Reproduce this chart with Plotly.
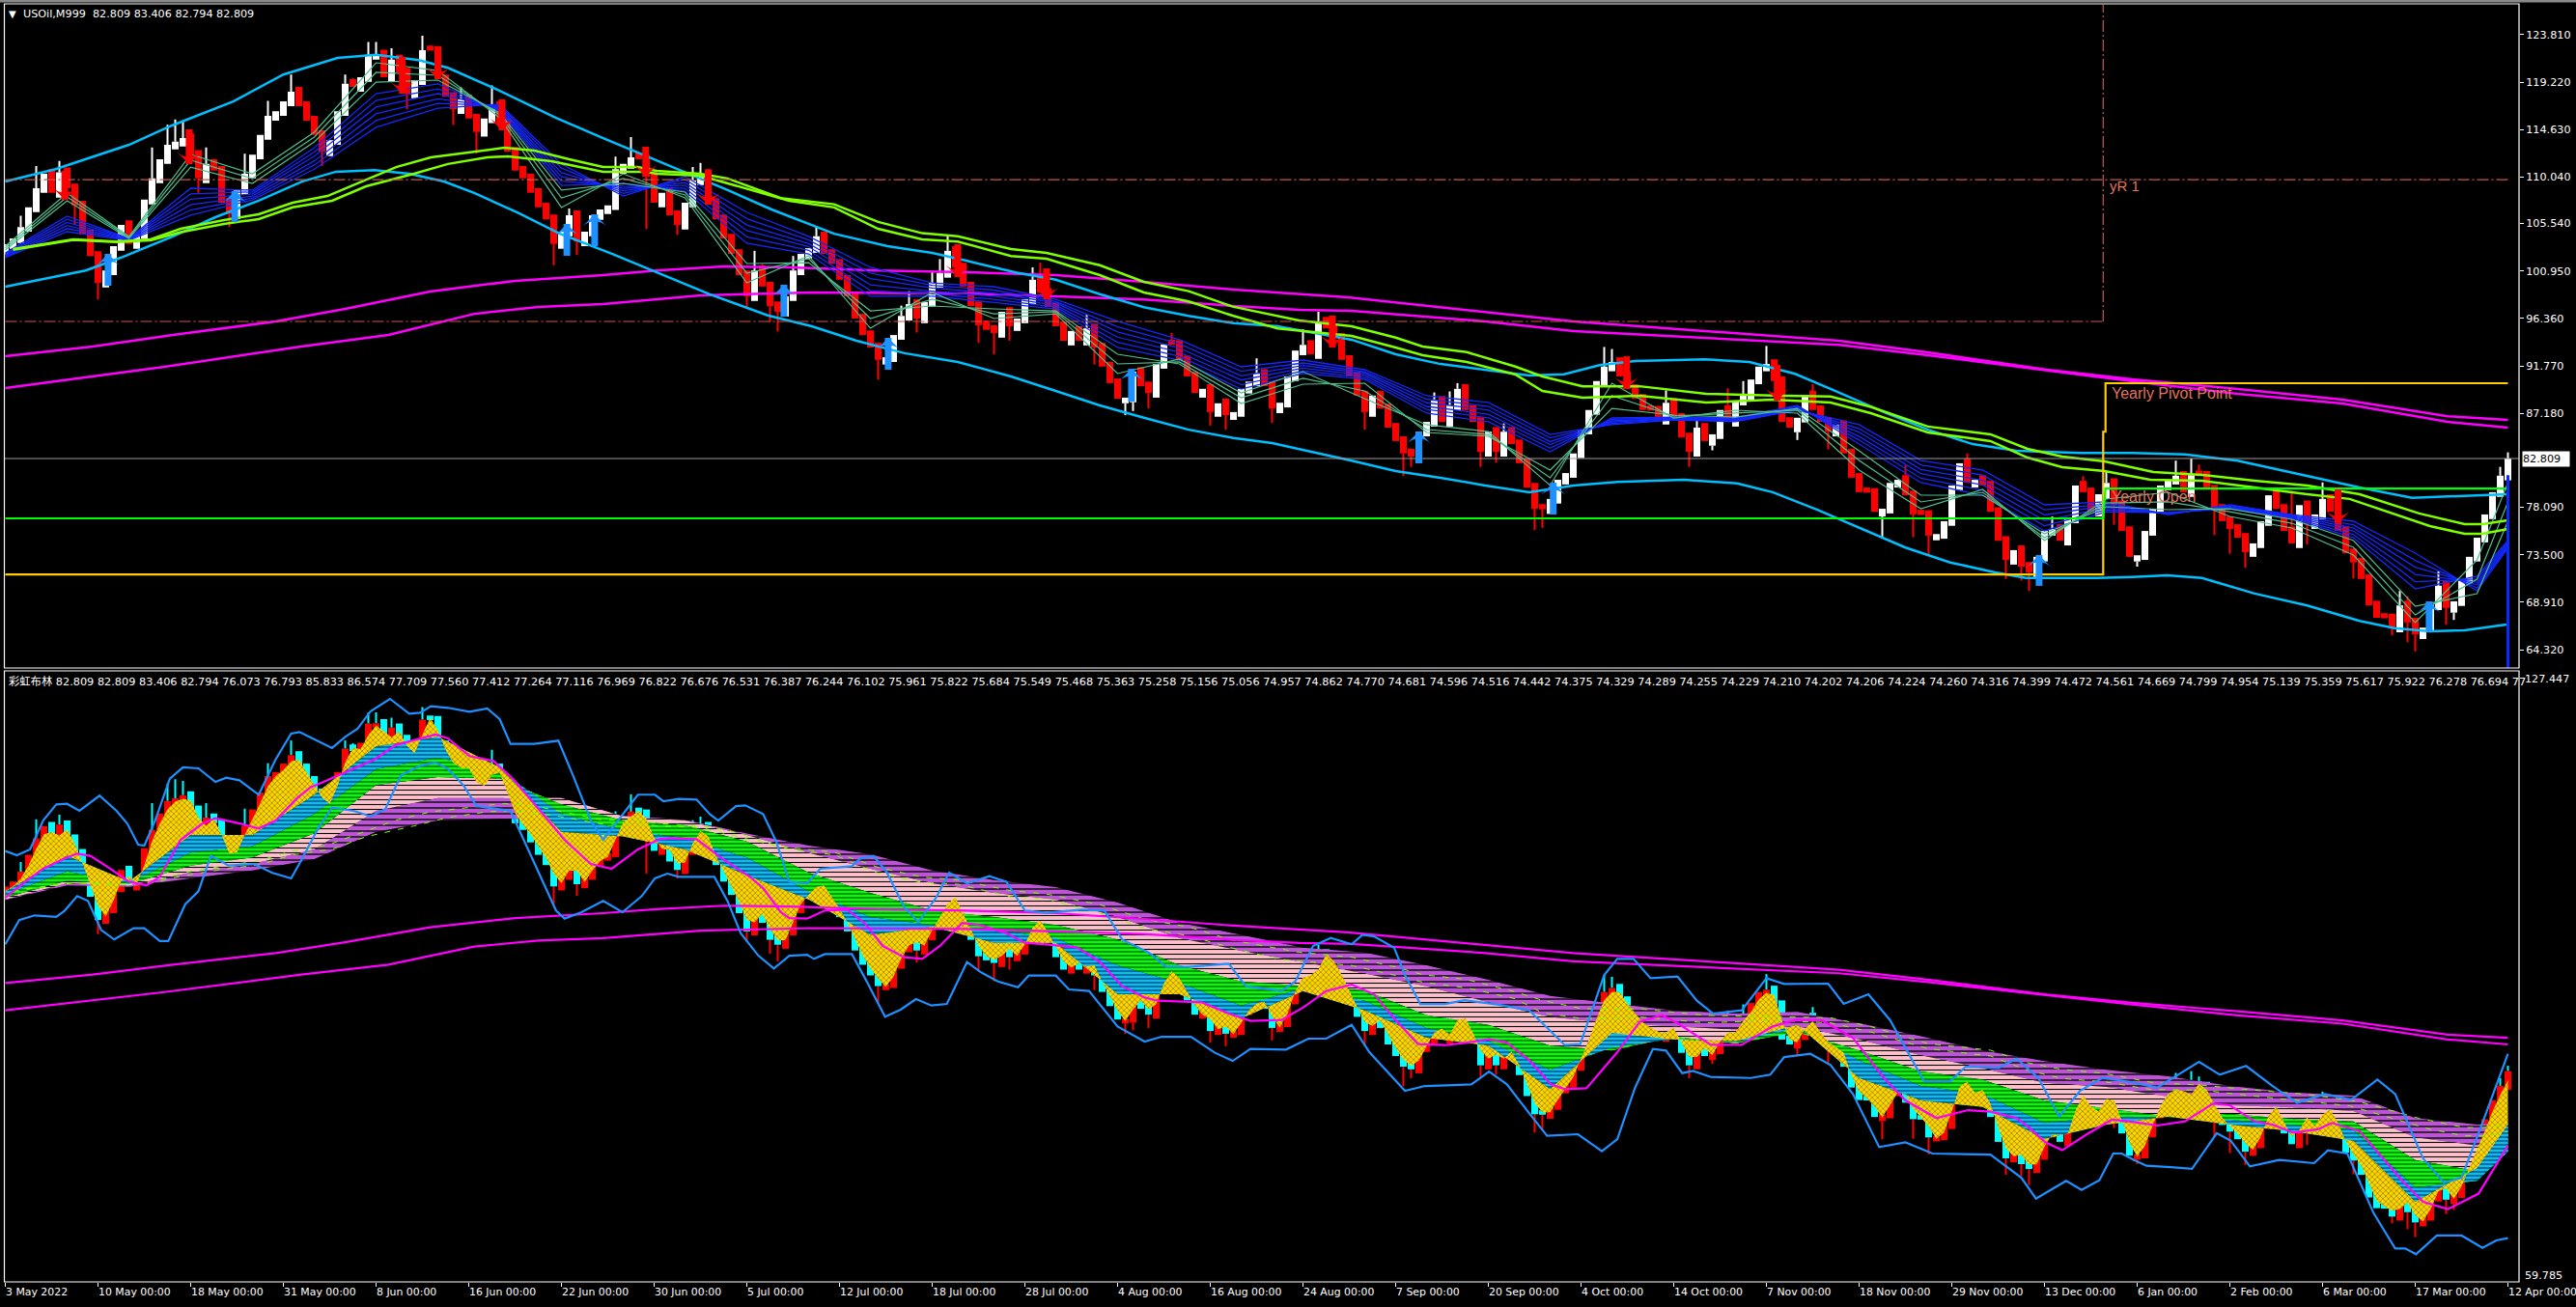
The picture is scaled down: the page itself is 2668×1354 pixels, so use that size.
import plotly.graph_objects as go

W, H = 2668, 1354
# ---------------- candles (bar index -> close) ----------------
CLOSE = [103.54,104.1,105.2,107.1,108.95,110.35,108.5,110.5,108.95,107.3,
104.5,102.4,99.8,101.0,103.35,105.4,103.55,104.5,107.85,109.9,
111.75,113.15,113.45,113.8,112.2,109.9,111.3,110.65,107.55,106.45,
108.75,110.35,112.2,114.1,115.95,116.4,117.35,118.3,116.9,115.5,
114.1,112.5,113.6,116.4,119.05,118.75,119.7,121.85,121.9,119.7,
121.4,120.15,118.1,119.4,122.3,122.25,119.5,117.8,116.6,117.55,
115.7,114.4,115.7,116.9,115.3,112.5,110.65,109.9,108.5,107.1,
105.95,103.55,104.75,106.35,103.8,104.75,106.35,106.9,107.3,110.8,
111.3,111.95,111.75,110.05,107.55,108.5,106.35,105.4,107.55,109.7,
110.35,107.55,105.95,104.1,102.6,100.55,98.5,101.0,99.45,97.55,
97.0,98.5,101.0,102.6,103.15,104.3,102.6,101.65,100.1,98.5,
96.35,94.75,93.55,92.35,92.6,94.75,96.6,97.75,96.35,97.95,
99.8,100.75,102.9,101.3,99.45,97.55,95.7,95.25,94.95,97.0,
95.6,96.35,98.2,100.1,98.85,97.45,95.6,94.2,95.15,94.2,
95.4,93.55,91.7,90.1,88.6,88.7,91.2,89.8,89.15,91.95,
93.85,93.8,92.3,90.75,89.15,89.55,87.3,88.15,87.0,87.3,
89.55,90.25,91.0,89.8,87.65,88.2,90.75,93.25,93.8,92.9,
96.05,95.4,94.5,92.35,90.75,88.9,87.3,88.9,87.65,85.8,
84.5,83.3,83.0,85.4,86.35,88.4,86.35,87.95,89.55,87.5,
86.35,83.45,85.4,83.45,85.4,84.2,82.35,80.0,77.95,77.9,
78.9,80.75,81.4,83.3,85.6,87.5,90.3,91.7,92.15,90.75,
89.55,88.6,87.5,87.45,86.55,88.2,86.75,84.85,83.45,85.8,
84.5,85.15,87.5,86.35,88.4,88.9,90.45,91.7,91.95,90.3,
86.35,85.8,86.75,88.9,87.5,86.35,85.4,86.05,83.3,80.95,
79.55,79.5,77.65,77.95,80.45,80.75,79.25,77.4,77.35,75.35,
75.5,76.75,80.2,82.35,80.45,80.75,80.2,77.65,74.85,73.0,
73.95,72.35,71.8,73.3,75.8,76.0,74.85,77.0,80.2,79.55,
77.65,79.35,80.45,78.3,75.8,73.3,73.45,75.8,77.95,80.2,
80.75,81.15,79.55,81.2,81.15,79.8,77.95,76.75,76.0,75.15,
73.75,74.6,76.75,79.25,77.95,75.8,74.6,78.3,76.45,77.4,
78.9,77.65,75.8,73.65,72.75,71.15,68.6,67.4,67.35,66.45,
68.6,66.95,65.8,66.45,68.6,70.5,68.35,69.0,71.15,73.3,
75.15,77.4,79.55,81.15,82.809]
FIRST_OPEN = 103.0
BODY_OVERLAP = 0.45
HIGH_WICK = {2:106.3,4:111.1,7:111.6,19:112.9,21:115.1,22:115.6,23:115.4,26:112.9,31:112.3,34:117.4,37:119.95,
44:119.95,45:119.6,47:123.1,48:123.1,50:122.5,54:123.7,59:118.7,63:118.9,73:107,79:112.0,81:113.9,
89:111.0,90:111.4,98:101.6,97:102.9,105:105.2,102:102.4,122:104.45,121:102.1,120:101.0,116:97.6,117:99.0,
134:101.75,133:101.3,140:96.7,151:94.95,162:92.5,168:95.3,170:97.0,185:89.2,188:90.1,187:89.3,
194:86.2,207:93.6,208:93.4,215:89.4,219:86.6,223:89.6,225:90.3,228:93.7,234:90.0,246:82.15,254:83.3,
262:72.8,265:77.2,269:81.1,272:81.5,281:82.6,283:82.8,284:82.2,296:79.7,300:80.5,304:74.0,310:70.0,311:69.5,315:71.9,323:82.0,324:83.406}
LOW_WICK = {9:105.4,12:98.2,25:108.5,29:105.2,41:111.1,52:116.6,58:115.1,61:112.3,71:101.5,74:102.5,83:105.0,87:104.45,
96:97.3,100:95.1,99:96.0,113:90.45,118:95.0,126:94.0,128:92.9,130:94.2,145:87.0,146:87.4,148:87.65,
141:91.9,158:85.6,156:86.0,164:86.25,176:85.6,181:81.1,182:82.0,191:82.0,193:82.4,199:76.1,198:75.9,
218:82.0,221:83.6,232:84.6,236:83.7,243:75.15,249:73.45,247:75.2,259:71.15,262:70.0,261:71.0,276:72.35,
273:76.4,290:72.25,288:73.6,286:75.4,298:74.5,304:71.2,309:65.7,311:65.05,312:64.15,316:66.75,317:67.2}

# ---------------- smooth channel lines (bar index, price) ----------------
CYAN_UP_X = [0,6.5,16,21.5,29.5,36,43,48,53.5,57.3,63.5,71.3,77.4,84.6,93,99.2,107.3,114.2,120,124.4,130.8,136,141.7,147.4,153.2,159,164.7,174.3,180,185.8,191.6,197.3,201.8,206.4,211,220,225.8,231.7,236.3,243.2,248.9,254.7,260.4,268.6,275.4,282.2,289,298,304.8,311.6,318.4,323.8]
CYAN_UP_Y = [109.6,110.8,113.15,115,117.35,119.95,121.55,121.85,121.35,120.6,118.55,115.75,113.8,111.55,108.95,106.9,104.55,103.35,102.7,101.95,100.8,100.1,98.7,97.45,96.6,95.9,95.6,94.3,92.9,91.95,91.4,90.85,90.95,91.85,92.25,92.4,92.15,91.0,89.55,87.3,85.6,84.2,83.55,83.35,83.35,83.2,82.6,81.15,80.0,79.0,79.2,79.35]
CYAN_LO_X = [0,5,10.4,15,21.7,27.2,32.8,38.4,42.8,47.8,52.3,56.8,60.7,66.3,71.8,78.6,84.3,91.2,98.7,104.4,110.2,116.4,123.3,130.2,136,141.7,147.4,153.2,159,164,174.3,180,185.8,191.6,197.3,203,208.7,217.3,224.2,228.8,234.6,240.3,246,251.8,257.6,261.6,270.8,275.4,279.9,284.4,291.2,298,304.8,309.3,313.9,318.4,323.8]
CYAN_LO_Y = [99.43,100.2,101.0,102.25,104.3,106.15,107.75,109.6,110.55,110.7,110.35,109.6,108.5,106.6,104.55,102.6,100.85,98.7,96.65,95.6,94.2,93.0,92.15,90.75,89.35,87.95,86.75,85.6,84.8,84.3,82.6,81.6,80.95,80.2,79.55,80.2,80.55,80.75,80.4,79.55,77.85,76.0,74.2,72.75,71.8,71.25,71.25,71.35,71.5,71.25,69.75,68.6,67.1,66.4,66.1,66.2,66.75]
GREEN_UP_X = [1,4.9,8.8,14.4,18.8,22.7,28.3,32.8,37.2,41.7,45.6,50.6,55.1,60.7,64.6,68.5,73,77.4,81.9,84.3,90,93.5,100.4,107.3,113,118.7,123.3,130.2,134.8,141.7,147.4,153.2,158.9,167.5,174.3,180,183.5,189.2,195.5,199,204.2,211.6,220.2,228.8,236.3,241.5,248.9,257,261.8,266.3,271.8,278.1,284.4,291.2,298,304.8,312.5,318.4,320.7,324]
GREEN_UP_Y = [103.07,103.54,104,103.8,104,105.03,105.87,106.43,107.55,108.2,109.4,111,111.94,112.5,112.87,112.6,111.75,111,111,110.63,110.35,109.9,108,107.4,105.7,104.6,104.3,103.07,102.7,101.5,99.9,99,97.5,96.16,95.6,94.5,93.64,93.1,91.7,90.75,89.8,89.8,89.06,88.9,88.8,87.8,85.9,85.15,83.74,83,82.53,81.5,81.22,80.66,80.2,79.35,77.5,76.46,76.46,76.83]
GREEN_LO_X = [1,4.9,8.8,14.4,18.8,22.7,28.3,32.8,37.2,42.3,46.7,52.9,57.3,62.4,65.1,70.7,77.4,83,84.3,90,101.5,107.3,113,118.7,123.3,130.2,134.8,141.7,147.4,153.2,158.9,164.7,173.9,174.3,180,183.5,189.2,195.5,199,204.2,211.6,220.2,228.8,236.3,241.5,248.9,257,261.8,266.3,271.8,277.7,284.4,291.2,298,303.5,309.4,313.9,318.4,320.7,324]
GREEN_LO_Y = [103.0,103.5,103.95,103.75,103.9,104.7,105.5,105.97,107.1,107.74,109.14,110.35,111.3,111.94,112.03,111.57,110.54,110.54,110.35,110.17,107.74,107.1,105.03,104,103.8,102.4,102.14,100.55,98.87,98,96.63,95.4,94.76,94.67,93.55,92.8,92.15,90.93,89.35,88.7,88.88,88.23,88.5,88.23,87.2,85.33,84.5,82.9,81.97,81.6,80.75,80.66,80.0,79.35,78.9,77.4,76.27,75.53,75.53,76]
MAG_UP_X = [0,11.3,21.7,35,44,55,66,77.4,84.3,93,101.6,113,124.4,136,147.4,159,173.8,191.6,203,220,237.4,248.9,264.3,275.4,289,302.6,316.2,324]
MAG_UP_Y = [92.7,93.64,94.76,96.07,97.28,98.96,100,100.55,101,101.39,101.3,101,100.83,100.55,99.9,99.15,98.4,97,96.07,95.14,94.2,93.08,91.4,90.47,89.53,88.5,86.9,86.55]
MAG_LO_X = [0,20.6,38.3,49.6,60.7,69,77.4,84.3,90,104.4,124.4,136,147.4,159,167.6,174.3,191.6,203,220,237.4,248.9,264.3,275.4,289,302.6,316.2,324]
MAG_LO_Y = [89.63,91.68,93.64,94.76,96.8,97.47,97.75,98.2,98.59,98.87,98.77,98.5,98.2,97.56,97.19,97.1,96.07,95.13,94.48,93.8,92.8,91.3,90.28,89.07,88.13,86.36,85.8]

# ---------------- moving-average ribbon (sampled every 8 bars) ----------------
GRID = [0,8,16,24,32,40,48,56,64,72,80,88,96,104,112,120,128,136,144,152,160,168,176,184,192,200,208,216,224,232,240,248,256,264,272,280,288,296,304,312,320,324]
SEA1 = [103.35,108.49,104.28,112.22,110.35,114.37,121.09,120.34,115.77,107.09,110.35,108.02,99.8,102.42,95.41,98.87,96.35,96.81,91.03,92.43,89.16,91.21,88.6,86.08,85.42,80.2,90.09,86.73,87.48,87.2,81.69,77.95,79.82,74.87,78.89,79.54,77.21,76.09,73.47,66.94,73.0,80.47]
SEA2 = [103.16,108.11,104.19,111.66,109.89,113.9,120.16,119.88,116.05,108.02,109.89,108.3,100.74,102.14,96.35,98.22,96.81,97.0,91.96,92.15,88.69,90.56,89.35,85.61,85.14,80.94,88.88,86.92,87.2,87.48,82.62,78.61,79.54,75.15,78.51,78.61,77.67,76.55,74.22,67.68,71.14,78.61]
SEA3 = [102.98,107.74,104.1,111.0,109.42,113.43,119.22,119.41,116.24,108.77,109.42,108.58,101.67,101.76,97.09,97.56,97.28,97.09,92.89,91.96,88.13,90.0,90.09,85.33,84.96,81.69,87.66,87.01,86.82,87.66,83.56,79.26,79.26,75.53,78.14,77.86,77.95,76.93,74.87,68.52,69.74,76.74]
BLUE1 = [102.7,106.25,104.1,108.95,108.77,112.87,118.1,119.04,116.42,109.23,109.42,108.67,103.63,102.6,98.5,98.5,97.9,97.28,93.55,92.33,89.53,91.03,90.47,87.2,86.36,83.46,86.73,86.82,86.73,87.95,84.21,80.48,79.26,75.81,77.67,77.58,77.95,77.02,75.15,70.2,71.42,74.87]
BLUE2 = [102.6,105.95,104.06,108.4,108.6,112.45,117.45,118.55,116.55,109.65,109.15,108.95,104.25,102.95,99.05,98.75,98.2,97.45,94.05,92.7,89.95,91.3,90.65,87.55,86.75,83.8,86.6,86.76,86.65,87.85,84.6,80.9,79.75,76.3,77.85,77.54,78.03,77.1,75.45,70.9,71.15,74.72]
BLUE3 = [102.5,105.65,104.02,107.9,108.4,112.05,116.8,118.1,116.7,110.05,108.95,109.25,104.85,103.3,99.6,99.0,98.5,97.65,94.55,93.1,90.4,91.55,90.85,87.85,87.1,84.15,86.45,86.7,86.58,87.75,84.95,81.35,80.25,76.8,78.05,77.5,78.1,77.17,75.8,71.6,70.85,74.58]
BLUE4 = [102.4,105.35,103.98,107.35,108.2,111.6,116.15,117.6,116.8,110.45,108.7,109.5,105.4,103.6,100.2,99.3,98.8,97.85,95.05,93.5,90.8,91.8,91.05,88.2,87.5,84.45,86.35,86.65,86.5,87.65,85.35,81.75,80.7,77.35,78.25,77.46,78.18,77.25,76.1,72.3,70.6,74.43]
BLUE5 = [102.3,105.05,103.94,106.85,108.0,111.2,115.5,117.15,116.95,110.9,108.45,109.8,106.0,103.95,100.75,99.55,99.1,98.0,95.55,93.9,91.25,92.05,91.2,88.55,87.85,84.8,86.2,86.6,86.43,87.57,85.7,82.2,81.2,77.85,78.4,77.43,78.25,77.32,76.4,72.95,70.3,74.28]
BLUE6 = [102.23,104.75,103.9,106.34,107.83,110.8,114.84,116.7,117.08,111.29,108.2,110.07,106.62,104.3,101.3,99.8,99.43,98.2,96.07,94.3,91.68,92.33,91.4,88.88,88.23,85.14,86.08,86.54,86.36,87.48,86.08,82.62,81.69,78.33,78.61,77.39,78.33,77.39,76.74,73.66,70.02,74.13]

# ---------------- rainbow band edges of the lower window ----------------
EDGE_YELLOW_BLUE = [103.0,107,104.1,109.34,109.34,113.86,119.28,120.36,116.93,109.7,109.16,107.7,104.81,102.1,98.12,99.03,97.22,97.22,91.44,91.44,88.73,91.8,89.63,86.55,85.65,80.77,87.1,86.37,86.19,88.0,82.03,79.5,78.78,75.17,76.8,77.7,76.8,76.07,74.99,68.12,71.92,76.8]
EDGE_BLUE_GREEN = [102.65,105.25,103.9,107.35,108.07,111.69,116.75,118.01,116.57,111.69,109.88,108.97,106.8,103.0,100.11,99.21,98.67,97.76,94.69,92.7,90.17,92.09,90.71,87.64,86.19,82.94,85.47,86.45,86.08,87.64,84.0,81.13,80.23,76.98,77.7,77.63,77.34,76.8,76.18,69.75,70.47,73.73]
EDGE_GREEN_PINK = [102.3,104.17,103.8,105.9,106.8,109.52,114.94,115.84,115.66,112.77,110.96,110.42,108.61,105.1,102.82,100.84,100.11,99.21,97.58,94.69,92.88,92.34,91.87,89.08,88.0,85.65,85.11,86.66,85.94,87.17,85.11,82.76,81.85,79.51,78.6,77.7,77.99,77.41,77.16,72.82,71.56,74.81]
EDGE_PINK_PURPLE = [102.1,103.9,103.66,105.1,106.08,107.71,112.05,113.49,113.49,113.49,111.43,110.96,109.33,107.34,105.54,103.91,102.82,102.1,100.11,97.76,96.32,95.05,93.78,92.34,90.53,88.9,88.18,87.82,87.46,87.82,86.37,84.57,83.12,81.5,81.03,79.94,78.97,78.71,78.32,75.35,74.45,75.89]
EDGE_PURPLE_OUT = [102.05,103.66,103.52,104.46,105.36,106.63,109.7,110.96,111.14,111.14,111.5,111.03,109.51,108.14,107.16,105.35,104.27,103.47,101.74,99.46,98.12,96.68,96.13,94.69,93.06,91.25,90.42,89.63,89.26,89.45,88.18,86.73,85.11,83.92,82.94,82.22,81.14,80.41,80.05,77.52,76.8,76.98]

# ---------------- lower window lines ----------------
BOLL_UP_X = [0,1.5,3.2,4.9,6.6,8,9.6,10.7,12.2,14.4,15.8,17.2,18,19.4,21.3,23,25,27.2,28.6,30.3,32.8,35,37,38.1,40.6,42.3,44,45.6,47.3,49.8,52.3,53.7,55.1,57.3,60.1,62.4,64,65.4,68.5,71.6,73.5,75.8,77.4,79.7,81.9,84.1,85.2,87.2,89.5,91.2,92.3,94.6,95.8,98.1,99.8,101.5,103.8,105.5,109.6,110.7,112.4,114.1,116.4,118.2,120.5,122.2,124.5,127.4,129.6,132,134.8,139.4,142.3,144.6,148,150.3,153.2,158.4,160.6,165.2,167,169.3,171.6,174.3,175.7,177.2,179.8,181.2,183.2,186.4,188.9,193.2,197.3,201.9,203.9,207,208.7,210.8,213,216.5,219,221.1,224.8,228,230.3,236,238,241.2,244,248.4,251.8,253.8,258.1,260.4,263.2,265.9,268.6,271.5,274.5,278.6,281.3,284,286.7,290.1,293.5,296.7,300.3,303.7,307.1,309.4,313,315.7,318,320.7,324]
BOLL_UP_Y = [107.53,107.06,107.71,110.96,112.77,112.84,112.05,112.77,113.75,112.05,110.6,108.25,108.14,110.96,115.66,116.93,116.82,115.3,115.77,115.48,113.86,117.83,120.72,120.9,119.82,119.1,120.36,121.27,123.25,124.63,122.97,123.07,123.8,123.62,123.18,123.54,122.35,119.57,119.57,119.93,116.02,110.96,108.79,111.33,113.86,113.86,113.13,113.38,113.31,111.68,110.96,112.58,112.66,111.68,108.61,104.09,103.91,105.54,105.82,106.69,106.98,105.17,101.2,99.57,102.28,105.1,103.91,104.7,104.09,100.84,100.58,100.94,100.84,97.58,96.14,94.51,94.51,94.87,92.34,91.8,92.88,96.86,97.76,97.04,98.12,97.94,96.68,93.6,90.35,90.35,90.78,90.28,89.63,85.72,85.83,93.6,95.41,95.41,93.24,93.42,90.71,89.26,89.63,93.24,92.59,92.63,90.35,91.43,88.54,81.67,81.67,83.3,83.19,84.2,82.04,77.7,80.59,82.04,81.68,80.96,82.4,83.85,82.4,83.38,81.14,79.22,80.23,79.58,81.86,80.23,73,70.29,70.83,76.98,84.75]
BOLL_LO_X = [0,1.8,3.8,6.6,7.7,9.3,10.7,12.4,14.1,16.6,18,20,21.1,23.3,25,26.6,28.9,32.2,34.5,37,38.4,40.6,42.3,45.1,47.3,49.2,51.2,53.7,55.7,57.3,59.3,61,65.4,67.9,71.3,72.4,74.6,77.4,79.9,82.4,84.1,85.7,87.2,91.8,93.5,95.2,97.5,99.5,101.5,103.8,104.7,106.1,109.6,111.3,113.9,115.9,117.9,119.9,121.9,124.5,126.2,128.5,131.1,132.5,136,137.7,140.3,144,147.5,149.7,153.5,156.6,158.9,161.2,165.8,168.7,171,174.3,176.6,181.2,183.8,187.5,189.8,192.1,194.4,197.3,199.6,203.6,206.7,208.7,211,213.3,215,217.1,218.5,220.8,226,228.5,230.3,233.7,236.3,239.2,242.6,246,249.5,257,261,262.9,265,266.8,268.8,271.1,272.9,274,275.6,277.2,280.8,283.1,286.3,288.1,290.6,294.4,298.9,300.7,303.2,306.6,309.4,310.7,312.1,314.8,318,320.7,322.5,324]
BOLL_LO_Y = [97.05,99.76,100.3,100.12,100.84,102.47,101.93,98.67,97.59,98.85,98.85,97.41,97.41,101.56,103,106.99,105.9,106.08,105.11,104.46,106.63,110.24,112.41,112.05,111.43,112.23,116.02,117.11,117.47,116.75,114.94,112.59,112.05,107.35,100.84,99.94,100.66,101.93,100.66,102.47,104.46,104.99,104.63,104.63,101.92,98.3,95.77,94.33,95.77,95.88,95.41,95.95,95.95,93.24,88.91,89.7,90.89,90.17,90.35,95.05,93.97,92.88,92.23,93.53,93.53,91.98,91.8,87.82,86.12,86.66,86.66,84.86,83.95,85.29,85.22,86.45,86.45,88,84.93,80.59,81.13,81.24,81.31,82.76,81.31,78.06,75.53,75.71,73.79,75.17,80.95,85.29,85.11,82.58,82.83,82.14,82.03,82.4,84.38,84.75,83.48,80.23,74.26,74.8,73.54,73.43,70.83,68.48,69.57,70.47,69.46,70.54,73.54,73.54,72.82,72.17,71.99,71.81,75.82,74.99,72.1,72.82,72.46,73.91,73.54,66.86,62.88,62.88,62.23,64.33,64.33,62.95,63.78,64.04]
FAST_MA_X = [0,2.6,4.9,7.7,9.3,11,13.3,16,18.3,20,22.7,25.5,27.2,30.5,32.8,35,37.8,39.5,41.7,44.5,47.8,50.6,54,55.7,57.3,60.1,63.2,65.7,69.6,72.4,75.8,78.5,81.9,84.7,86,89.5,92.9,96.4,98.1,100.4,101.5,103.8,106.1,109,111.3,113.6,116.4,118.7,121,123.9,126.2,129.6,132,134.8,138.8,141.7,144.6,147.5,149.2,154.9,158.4,161.2,165.2,168.1,171,174.3,177.2,180,182.9,186.4,189.2,192.1,194.4,197.3,200.1,201.9,204.7,208.7,211.6,214.5,216.5,220.8,224.8,228.8,231.7,235.1,239.2,243.2,246,250,254.1,257,260.4,261.8,264.1,266.3,269.5,272.7,274.9,278.6,282.2,285.8,288,291.2,293.5,296.2,299.4,301.2,304.8,307.5,310.3,313,316.2,320.2,324]
FAST_MA_Y = [102.29,104.09,105.54,106.7,107.24,106.99,105.72,104.09,103.66,104.64,108.79,110.6,111.22,110.6,110.06,110.96,113.49,114.69,115.48,116.57,117.83,119.46,120.18,120.62,120.18,118.19,117.65,115.66,111.69,108.79,106.08,105.54,107.71,108.87,108.97,108.86,106.62,104.63,103.37,100.66,100,99.93,100.84,100.94,99.39,96.86,95.59,95.41,96.86,99.46,99.21,98.3,97.22,97.04,96.68,95.05,92.34,91.07,90.71,90.53,89.27,88.44,88.54,89.99,91.8,92.52,91.43,88.54,85.83,85.72,86.01,86.37,86.01,84.02,81.31,80.77,80.88,84.93,88.36,89.08,88.18,85.76,85.76,87.82,88.54,88.54,86.55,82.03,79.5,77.52,78.42,78.24,77.52,76.62,74.81,73.91,75.71,77.34,77.16,76.69,77.16,79.15,78.97,77.16,76.8,75.89,76.26,76.98,76.07,73.36,70.47,68.12,67.29,69.03,74.45]

# ---------------- signal arrows (bar, one end, other end) ----------------
DOWN_BAR = [7.7,23.8,51.4,56,64.3,82.9,91,123.3,134.8,171.8,209.9,229.4,302]
DOWN_TOP = [110.63,114.65,121.65,122.68,117.54,112.97,110.63,103.54,101.2,96.63,92.7,91.87,79.82]
DOWN_TIP = [107.83,111.29,118.1,119.5,114.55,110.07,107.37,100.36,98.22,93.55,89.53,88.41,76.55]
UP_BAR = [13.3,29.7,72.7,76.3,100.8,114.3,145.8,183,200.4,263.3,313.8]
UP_TIP = [102.6,108.67,105.5,106.43,99.62,94.48,91.49,85.42,80.47,73.47,68.99]
UP_END = [99.52,105.68,102.42,103.35,96.53,91.4,88.32,82.34,77.39,70.49,66.1]

# ---------------- levels ----------------
LEVEL_LAST = 82.809
LEVEL_R1 = 109.79
LEVEL_S1 = 96.07
LEVEL_PIVOT = 90.09
YEAR_SPLIT = [271.6, 271.9]
OPEN_OLD, OPEN_NEW = 77.02, 79.9
LOW_OLD, LOW_MID = 71.6, 85.4
END_BAR = 324
LAST_BAR_BLUE_TOP, LAST_BAR_BLUE_BOTTOM = 81.2, 62.55

PRICE_TICKS = [123.81,119.22,114.63,110.04,105.54,100.95,96.36,91.77,87.18,78.09,73.5,68.91,64.32]
DATE_LABELS = ["3 May 2022","10 May 00:00","18 May 00:00","31 May 00:00","8 Jun 00:00","16 Jun 00:00","22 Jun 00:00","30 Jun 00:00","5 Jul 00:00","12 Jul 00:00","18 Jul 00:00","28 Jul 00:00","4 Aug 00:00","16 Aug 00:00","24 Aug 00:00","7 Sep 00:00","20 Sep 00:00","4 Oct 00:00","14 Oct 00:00","7 Nov 00:00","18 Nov 00:00","29 Nov 00:00","13 Dec 00:00","6 Jan 00:00","2 Feb 00:00","6 Mar 00:00","17 Mar 00:00","12 Apr 00:00"]
DATE_BARS = [12*k for k in range(len(DATE_LABELS))]
HEAD_TOP = "USOil,M999  82.809 83.406 82.794 82.809"
HEAD_LOW = ("彩虹布林 82.809 82.809 83.406 82.794 76.073 76.793 85.833 86.574 77.709 77.560 77.412 77.264 77.116 76.969 76.822 76.676 76.531 76.387 76.244 76.102 75.961 75.822 75.684 75.549 75.468 75.363 75.258 75.156 75.056 74.957 74.862 74.770 74.681 74.596 74.516 74.442 74.375 74.329 74.289 74.255 74.229 74.210 74.202 74.206 74.224 74.260 74.316 74.399 74.472 74.561 74.669 74.799 74.954 75.139 75.359 75.617 75.922 76.278 76.694 77")

# ---------------- geometry ----------------
XL, XR = 4.5, 2609.0
PX0, DX = 5.5, 8.0
T_TOP, T_BOT = 5.0, 692.0
B_TOP, B_BOT = 696.0, 1328.0
def pxf(x): return x / W
def pyf(y): return 1 - y / H
t_rng = [127.16 - 0.09337 * T_BOT, 127.16 - 0.09337 * T_TOP]
def b_val(y): return 127.447 - (y - 698) / 9.22
b_rng = [b_val(B_BOT), b_val(B_TOP)]

N = len(CLOSE)
BARS = list(range(N))
PREV = [FIRST_OPEN] + CLOSE[:-1]
OPEN = [p - BODY_OVERLAP if c >= p else p + BODY_OVERLAP for p, c in zip(PREV, CLOSE)]
HIGH = [max(o, c, HIGH_WICK.get(i, 0)) for i, (o, c) in enumerate(zip(OPEN, CLOSE))]
LOW = [min(o, c, LOW_WICK.get(i, 999)) for i, (o, c) in enumerate(zip(OPEN, CLOSE))]
BASE = [min(o, c) for o, c in zip(OPEN, CLOSE)]
SPAN = [abs(c - o) for o, c in zip(OPEN, CLOSE)]
UP = [c >= o for o, c in zip(OPEN, CLOSE)]
TOPB = [max(o, c) for o, c in zip(OPEN, CLOSE)]

fig = go.Figure()
def line(x, y, color, width, ya='y', dash=None):
    fig.add_trace(go.Scatter(x=x, y=y, mode='lines', yaxis=ya, hoverinfo='skip',
                             line=dict(color=color, width=width, dash=dash)))

# top window
line(MAG_UP_X, MAG_UP_Y, '#ff00ff', 2.5)
line(MAG_LO_X, MAG_LO_Y, '#ff00ff', 2.5)
line(CYAN_UP_X, CYAN_UP_Y, '#00bfff', 2.5)
line(CYAN_LO_X, CYAN_LO_Y, '#00bfff', 2.5)
for s in (BLUE1, BLUE2, BLUE3, BLUE4, BLUE5, BLUE6):
    line(GRID, s, '#1428ff', 1.3)
for s in (SEA1, SEA2, SEA3):
    line(GRID, s, '#4fc08d', 1.2)
line(GREEN_UP_X, GREEN_UP_Y, '#7fff00', 2.5)
line(GREEN_LO_X, GREEN_LO_Y, '#7fff00', 2.5)

def candles(ya, up_col, dn_col, hi_col, lo_col):
    fig.add_trace(go.Bar(x=BARS, base=TOPB, y=[h - t for h, t in zip(HIGH, TOPB)], width=0.16, yaxis=ya,
                         marker=dict(color=hi_col, line=dict(width=0)), hoverinfo='skip'))
    fig.add_trace(go.Bar(x=BARS, base=LOW, y=[b - l for b, l in zip(BASE, LOW)], width=0.16, yaxis=ya,
                         marker=dict(color=lo_col, line=dict(width=0)), hoverinfo='skip'))
    fig.add_trace(go.Bar(x=BARS, base=BASE, y=SPAN, width=0.88, yaxis=ya,
                         marker=dict(color=[up_col if u else dn_col for u in UP], line=dict(width=0)),
                         hoverinfo='skip'))

candles('y', '#ffffff', '#ff0000', ['#ffffff' if u else '#ff0000' for u in UP], ['#ffffff' if u else '#ff0000' for u in UP])

# levels
DASH = '12px,3px,2px,3px'
line([0, END_BAR], [LEVEL_R1, LEVEL_R1], '#c8584a', 1.2, dash=DASH)
line([0, YEAR_SPLIT[0]], [LEVEL_S1, LEVEL_S1], '#c8584a', 1.2, dash=DASH)
line([YEAR_SPLIT[0], YEAR_SPLIT[0]], [LEVEL_S1, t_rng[1]], '#c8584a', 1.2, dash=DASH)
line([-0.1, 325.4], [LEVEL_LAST, LEVEL_LAST], '#9a9a9a', 1.2)
line([0, YEAR_SPLIT[0], YEAR_SPLIT[0], YEAR_SPLIT[1], YEAR_SPLIT[1], END_BAR],
     [LOW_OLD, LOW_OLD, LOW_MID, LOW_MID, LEVEL_PIVOT, LEVEL_PIVOT], '#ffcc00', 2.2)
line([0, YEAR_SPLIT[0], YEAR_SPLIT[1], END_BAR], [OPEN_OLD, OPEN_OLD, OPEN_NEW, OPEN_NEW], '#00ff00', 2.2)
line([END_BAR, END_BAR], [LAST_BAR_BLUE_TOP, LAST_BAR_BLUE_BOTTOM], '#0a28ff', 3)

# arrows
def stems(xs, a, b, color):
    X, Y = [], []
    for x, p, q in zip(xs, a, b):
        X += [x, x, None]; Y += [p, q, None]
    line(X, Y, color, 7)
stems(DOWN_BAR, DOWN_TOP, DOWN_TIP, '#ff0000')
stems(UP_BAR, UP_TIP, UP_END, '#1e90ff')
fig.add_trace(go.Scatter(x=DOWN_BAR, y=DOWN_TIP, mode='markers', hoverinfo='skip', yaxis='y',
                         marker=dict(symbol='arrow-wide', angle=180, size=18, color='#ff0000', line=dict(width=0))))
fig.add_trace(go.Scatter(x=UP_BAR, y=UP_TIP, mode='markers', hoverinfo='skip', yaxis='y',
                         marker=dict(symbol='arrow-wide', angle=0, size=18, color='#1e90ff', line=dict(width=0))))

# lower window : rainbow
def band(x1, y1, x2, y2, color, shape, size, solid):
    fig.add_trace(go.Scatter(x=list(x1) + list(x2)[::-1], y=list(y1) + list(y2)[::-1], yaxis='y2',
                             mode='lines', line=dict(width=0), fill='toself', fillcolor=color, hoverinfo='skip',
                             fillpattern=dict(shape=shape, bgcolor=color, fgcolor='#000000', size=size,
                                              solidity=solid, fillmode='replace')))
band(GRID, EDGE_PINK_PURPLE, GRID, EDGE_PURPLE_OUT, '#ba55d3', '-', 6, 0.22)
band(GRID, EDGE_GREEN_PINK, GRID, EDGE_PINK_PURPLE, '#ffc0cb', '-', 5, 0.22)
band(GRID, EDGE_BLUE_GREEN, GRID, EDGE_GREEN_PINK, '#00ff00', '-', 4, 0.22)
band(GRID, EDGE_YELLOW_BLUE, GRID, EDGE_BLUE_GREEN, '#00bfff', '-', 4, 0.22)
candles('y2', '#ff0000', '#00ffff', '#00ffff', '#ff0000')
MID = [(o + c) / 2 for o, c in zip(OPEN, CLOSE)]
band(BARS, MID, GRID, EDGE_YELLOW_BLUE, '#ffd700', 'x', 4, 0.15)
line(GREEN_UP_X, GREEN_UP_Y, '#7fff00', 1, 'y2', '6px,8px')
line(GREEN_LO_X, GREEN_LO_Y, '#7fff00', 1, 'y2', '6px,8px')
line(MAG_UP_X, MAG_UP_Y, '#ff00ff', 2.2, 'y2')
line(MAG_LO_X, MAG_LO_Y, '#ff00ff', 2.2, 'y2')
line(BOLL_UP_X, BOLL_UP_Y, '#1e90ff', 2.2, 'y2')
line(BOLL_LO_X, BOLL_LO_Y, '#1e90ff', 2.2, 'y2')
line(FAST_MA_X, FAST_MA_Y, '#ff00ff', 2.2, 'y2')

FONT = 'DejaVu Sans'
TICKF = dict(family=FONT, size=11.2, color='#ffffff')
DATEF = dict(family=FONT, size=10.9, color='#ffffff')
def note(x, y, text, color='#ffffff', size=11.2, family=FONT, **kw):
    return dict(xref='paper', yref='paper', x=pxf(x), y=pyf(y), text=text, showarrow=False, xanchor='left',
                yanchor='middle', font=dict(family=family, size=size, color=color), borderpad=0, **kw)

notes = [
    note(8, 14.5, '▼', size=10),
    note(23, 14.5, HEAD_TOP),
    note(8, 706, HEAD_LOW, size=11.3, family=FONT + ', "Noto Sans CJK SC"'),
    note(2184, 192, 'yR 1', '#e0735e', 15, 'Liberation Sans'),
    note(2186, 407, 'Yearly Pivot Point', '#e0735e', 16, 'Liberation Sans'),
    note(2186, 514, 'Yearly Open', '#e0735e', 16, 'Liberation Sans'),
    note(2612, 476, '82.809', '#000000', bgcolor='#ffffff', width=48, height=15, align='left'),
    note(2614, 703, '127.447'),
    note(2614, 1321, '59.785'),
]
shapes = [
    dict(type='rect', xref='paper', yref='paper', x0=0, x1=1, y0=pyf(2.5), y1=1, fillcolor='#8a8a8a', line=dict(width=0)),
    dict(type='rect', xref='paper', yref='paper', x0=pxf(XL), x1=pxf(XR), y0=pyf(692), y1=pyf(4), line=dict(color='#ffffff', width=1.2)),
    dict(type='rect', xref='paper', yref='paper', x0=pxf(XL), x1=pxf(XR), y0=pyf(B_BOT), y1=pyf(695), line=dict(color='#ffffff', width=1.2)),
]

fig.update_layout(
    width=W, height=H, margin=dict(l=0, r=0, t=0, b=0), autosize=False,
    paper_bgcolor='#000000', plot_bgcolor='#000000', showlegend=False, barmode='overlay',
    hovermode=False, annotations=notes, shapes=shapes,
    xaxis=dict(domain=[pxf(XL), pxf(XR)], range=[(XL - PX0) / DX, (XR - PX0) / DX], anchor='y2', automargin=False,
               showgrid=False, zeroline=False, showline=False, tickmode='array', tickvals=DATE_BARS,
               ticktext=DATE_LABELS, ticks='outside', ticklen=4, tickcolor='#ffffff', tickfont=DATEF,
               ticklabelposition='outside right', ticklabeloverflow='allow', tickangle=0),
    yaxis=dict(domain=[pyf(T_BOT), pyf(T_TOP)], range=t_rng, side='right', anchor='x', showgrid=False, zeroline=False,
               automargin=False, showline=False, tickmode='array', tickvals=PRICE_TICKS,
               ticktext=['%.3f' % v for v in PRICE_TICKS],
               ticks='outside', ticklen=4, tickcolor='#ffffff', tickfont=TICKF),
    yaxis2=dict(domain=[pyf(B_BOT), pyf(B_TOP)], range=b_rng, side='right', anchor='x', showgrid=False, zeroline=False,
                automargin=False, showline=False, showticklabels=False, ticks=''),
)
fig.write_html('out.html', config=dict(displayModeBar=False),
               post_script="document.body.style.margin='0';document.body.style.background='#000';")
